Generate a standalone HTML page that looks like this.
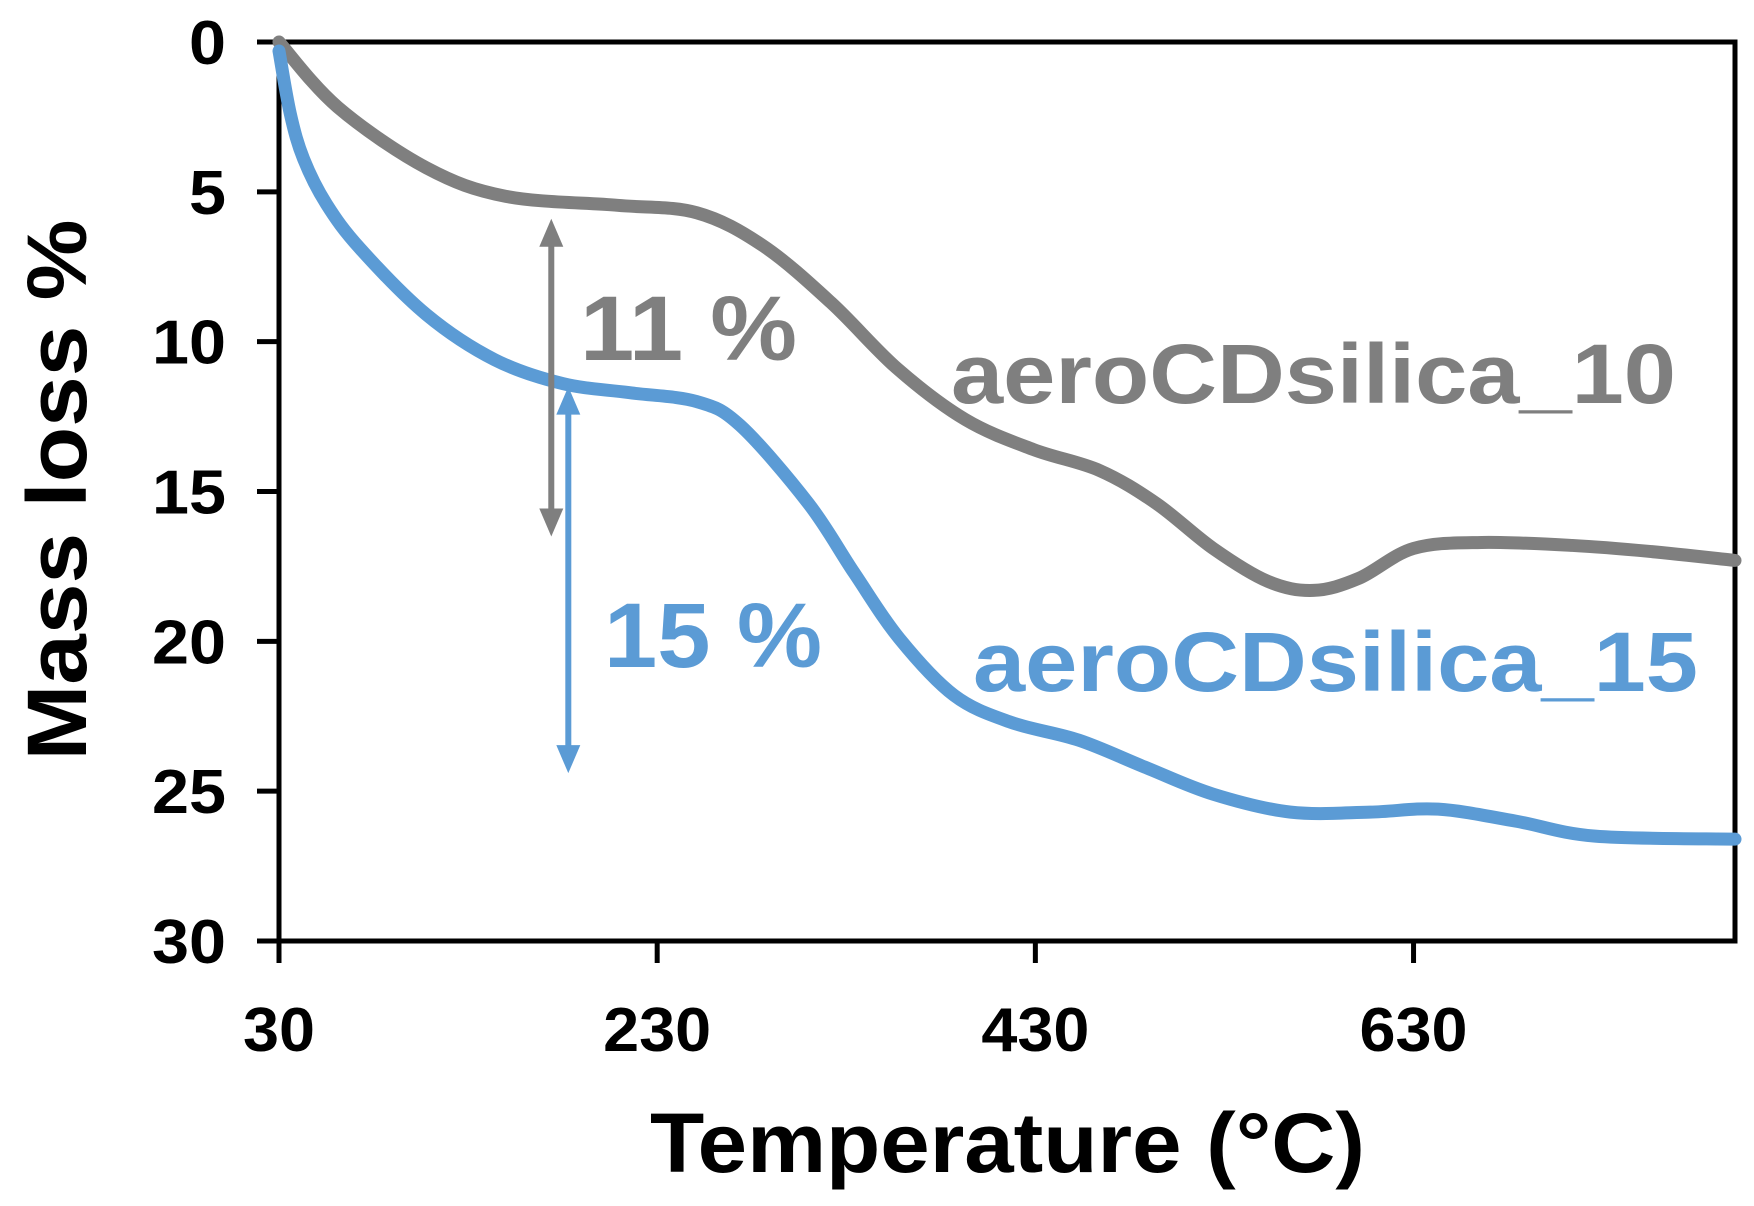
<!DOCTYPE html>
<html><head><meta charset="utf-8"><style>
html,body{margin:0;padding:0;background:#fff;}
svg{display:block;font-family:"Liberation Sans",Arial,sans-serif;font-weight:bold;}
</style></head><body>
<svg id="chart" width="1754" height="1206" viewBox="0 0 1754 1206">
<g id="plot"></g>
</svg>
<script>
const xTicks = [30, 230, 430, 630];
const yTicks = [0, 5, 10, 15, 20, 25, 30];
const tempGrey = [30, 61, 108, 150, 209, 251, 286, 322, 357, 393, 429, 464, 494, 524, 553, 577, 601, 630, 666, 714, 755, 800];
const massGrey = [0, 2.17, 4.2, 5.15, 5.45, 5.7, 6.8, 8.7, 10.9, 12.6, 13.6, 14.3, 15.4, 16.9, 18.0, 18.3, 17.9, 16.9, 16.7, 16.8, 17.0, 17.3];
const tempBlue = [30, 36, 43, 55, 73, 108, 144, 180, 215, 251, 274, 310, 334, 358, 387, 417, 453, 488, 524, 565, 607, 643, 684, 726, 800];
const massBlue = [0.3, 2.4, 3.9, 5.4, 6.9, 9.1, 10.6, 11.4, 11.7, 12.0, 12.8, 15.4, 17.7, 19.9, 21.8, 22.7, 23.3, 24.2, 25.1, 25.7, 25.7, 25.6, 26.0, 26.5, 26.6];
const arrowGrey = [174, 5.9, 16.5];
const arrowBlue = [183, 11.5, 24.4];

const NS = "http://www.w3.org/2000/svg";
const L = 279, R = 1735, T = 42, B = 941;
const xMin = 30, xMax = 800, yMin = 0, yMax = 30;
const sx = v => L + (v - xMin) / (xMax - xMin) * (R - L);
const sy = v => T + (v - yMin) / (yMax - yMin) * (B - T);
const g = document.getElementById('plot');
function mk(tag, attrs, parent) {
  const e = document.createElementNS(NS, tag);
  for (const k in attrs) e.setAttribute(k, attrs[k]);
  (parent || g).appendChild(e);
  return e;
}
function smooth(xs, ys) {
  const p = xs.map((x, i) => [sx(x), sy(ys[i])]);
  let d = `M${p[0][0]},${p[0][1]}`;
  for (let i = 0; i < p.length - 1; i++) {
    const p0 = p[i - 1] || p[i], p1 = p[i], p2 = p[i + 1], p3 = p[i + 2] || p2;
    const c1 = [p1[0] + (p2[0] - p0[0]) / 6, p1[1] + (p2[1] - p0[1]) / 6];
    const c2 = [p2[0] - (p3[0] - p1[0]) / 6, p2[1] - (p3[1] - p1[1]) / 6];
    d += ` C${c1[0]},${c1[1]} ${c2[0]},${c2[1]} ${p2[0]},${p2[1]}`;
  }
  return d;
}
const frame = mk('rect', {x: L, y: T, width: R - L, height: B - T, fill: 'none', stroke: '#000', 'stroke-width': 5});


yTicks.forEach(v => {
  const t = mk('line', {x1: L - 22, x2: L, y1: sy(v), y2: sy(v), stroke: '#000', 'stroke-width': 5});
  
  
  const s = String(v);
  const lb = mk('text', {x: 226, y: sy(v) + 22, 'text-anchor': 'end', 'font-size': 62, fill: '#000', textLength: s.length * 37, lengthAdjust: 'spacingAndGlyphs'});
  lb.textContent = s;
  
  
});
xTicks.forEach(v => {
  const t = mk('line', {x1: sx(v), x2: sx(v), y1: B, y2: B + 22, stroke: '#000', 'stroke-width': 5});
  
  
  const s = String(v);
  const lb = mk('text', {x: sx(v), y: 1051, 'text-anchor': 'middle', 'font-size': 62, fill: '#000', textLength: s.length * 36, lengthAdjust: 'spacingAndGlyphs'});
  lb.textContent = s;
  
  
});
const lg = mk('path', {d: smooth(tempGrey, massGrey), fill: 'none', stroke: '#7f7f7f', 'stroke-width': 13, 'stroke-linecap': 'round'});


const lbb = mk('path', {d: smooth(tempBlue, massBlue), fill: 'none', stroke: '#5b9bd5', 'stroke-width': 13, 'stroke-linecap': 'round'});


function arrow(a, color, name) {
  const x = sx(a[0]), y1 = sy(a[1]), y2 = sy(a[2]);
  const grp = mk('g', {});
  
  
  mk('line', {x1: x, x2: x, y1: y1 + 15, y2: y2 - 15, stroke: color, 'stroke-width': 6}, grp);
  mk('polygon', {points: `${x},${y1} ${x - 12},${y1 + 28} ${x + 12},${y1 + 28}`, fill: color}, grp);
  mk('polygon', {points: `${x},${y2} ${x - 12},${y2 - 28} ${x + 12},${y2 - 28}`, fill: color}, grp);
}
arrow(arrowGrey, '#7f7f7f', 'arrow-11-percent');
arrow(arrowBlue, '#5b9bd5', 'arrow-15-percent');
function txt(s, attrs, name) {
  const e = mk('text', attrs);
  e.textContent = s;
  
  
  return e;
}
txt('11 %', {x: 580, y: 360, 'font-size': 92, fill: '#7f7f7f', textLength: 217, lengthAdjust: 'spacingAndGlyphs'}, 'label-11-percent');
txt('15 %', {x: 604, y: 667, 'font-size': 92, fill: '#5b9bd5', textLength: 218, lengthAdjust: 'spacingAndGlyphs'}, 'label-15-percent');
txt('aeroCDsilica_10', {x: 951, y: 403, 'font-size': 84, fill: '#7f7f7f', textLength: 725, lengthAdjust: 'spacingAndGlyphs'}, 'series-label-10');
txt('aeroCDsilica_15', {x: 973, y: 691, 'font-size': 84, fill: '#5b9bd5', textLength: 725, lengthAdjust: 'spacingAndGlyphs'}, 'series-label-15');
txt('Temperature (°C)', {x: 650, y: 1172, 'font-size': 84, fill: '#000', textLength: 715, lengthAdjust: 'spacingAndGlyphs'}, 'x-axis-title');
txt('Mass loss %', {x: 0, y: 0, 'font-size': 84, fill: '#000', 'text-anchor': 'middle', textLength: 541, lengthAdjust: 'spacingAndGlyphs', transform: 'translate(86,490) rotate(-90)'}, 'y-axis-title');
</script>
</body></html>
